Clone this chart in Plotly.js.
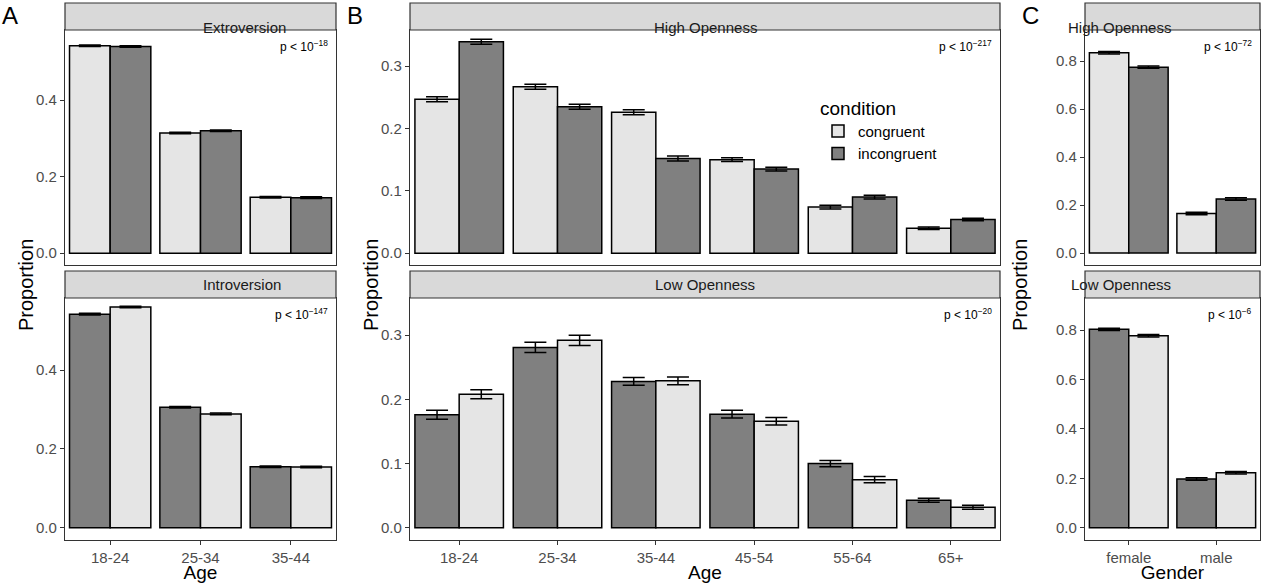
<html>
<head>
<script src="https://cdn.plot.ly/plotly-3.0.1.min.js"></script>
</head>
<body style="margin:0">
<div id="chart" style="width:1280px;height:583px"></div>
<script>
// data
let ageA = ["18-24", "25-34", "35-44"]
let extroCong = [0.542, 0.314, 0.146]
let extroIncong = [0.540, 0.320, 0.145]
let introIncong = [0.542, 0.306, 0.155]
let introCong = [0.560, 0.289, 0.154]
let errA = [0.002, 0.002, 0.002]

let ageB = ["18-24", "25-34", "35-44", "45-54", "55-64", "65+"]
let highCong = [0.247, 0.267, 0.226, 0.150, 0.074, 0.040]
let highIncong = [0.339, 0.235, 0.152, 0.135, 0.090, 0.054]
let highErr = [0.004, 0.004, 0.004, 0.003, 0.003, 0.002]
let lowIncong = [0.176, 0.281, 0.228, 0.177, 0.100, 0.043]
let lowCong = [0.208, 0.292, 0.229, 0.166, 0.075, 0.032]
let lowErr = [0.007, 0.008, 0.006, 0.006, 0.005, 0.003]

let gender = ["female", "male"]
let cHighCong = [0.835, 0.165]
let cHighIncong = [0.775, 0.225]
let cLowIncong = [0.803, 0.197]
let cLowCong = [0.777, 0.222]
let errC = [0.005, 0.005]

let light = "#e5e5e5"
let dark = "#808080"

function bar(x, y, err, color, name, xa, ya, show){
  return {type: "bar", x: x, y: y, name: name, xaxis: xa, yaxis: ya, showlegend: show, legendgroup: name,
    marker: {color: color, line: {color: "black", width: 1.5}},
    error_y: {type: "data", array: err, color: "black", thickness: 1.5, width: 11}}
}

let data = [
  bar(ageA, extroCong, errA, light, "congruent", "x", "y", false),
  bar(ageA, extroIncong, errA, dark, "incongruent", "x", "y", false),
  bar(ageA, introIncong, errA, dark, "incongruent", "x2", "y2", false),
  bar(ageA, introCong, errA, light, "congruent", "x2", "y2", false),
  bar(ageB, highCong, highErr, light, "congruent", "x3", "y3", true),
  bar(ageB, highIncong, highErr, dark, "incongruent", "x3", "y3", true),
  bar(ageB, lowIncong, lowErr, dark, "incongruent", "x4", "y4", false),
  bar(ageB, lowCong, lowErr, light, "congruent", "x4", "y4", false),
  bar(gender, cHighCong, errC, light, "congruent", "x5", "y5", false),
  bar(gender, cHighIncong, errC, dark, "incongruent", "x5", "y5", false),
  bar(gender, cLowIncong, errC, dark, "incongruent", "x6", "y6", false),
  bar(gender, cLowCong, errC, light, "congruent", "x6", "y6", false)
]

let W = 1280, H = 583
let topDom = [1 - 265/H, 1 - 30/H]
let botDom = [1 - 540/H, 1 - 298/H]
let cols = [[65, 336], [410, 1000], [1085, 1260]]
let ranges = [[-0.031, 0.583], [-0.019, 0.358], [-0.05, 0.93]]
let dticks = [0.2, 0.1, 0.2]
let xtitles = ["Age", "Age", "Gender"]

let layout = {
  width: W, height: H, margin: {l: 0, r: 0, t: 0, b: 0},
  paper_bgcolor: "white", plot_bgcolor: "white",
  font: {family: "Liberation Sans, Arial", color: "#4d4d4d"},
  barmode: "group", bargap: 0.1, bargroupgap: 0,
  legend: {x: 818/W, y: 1 - 90/H, xanchor: "left", yanchor: "top", bgcolor: "rgba(0,0,0,0)",
    title: {text: "condition", font: {size: 19, color: "black"}}, font: {size: 15, color: "black"},
    traceorder: "normal"},
  shapes: [], annotations: []
}

let strips = [["Extroversion", "Introversion"], ["High Openness", "Low Openness"], ["High Openness", "Low Openness"]]
let pvals = [["p < 10<sup>−18</sup>", "p < 10<sup>−147</sup>"], ["p < 10<sup>−217</sup>", "p < 10<sup>−20</sup>"], ["p < 10<sup>−72</sup>", "p < 10<sup>−6</sup>"]]
let letters = ["A", "B", "C"]

for (let i = 0; i < 3; i++){
  let dom = [cols[i][0]/W, cols[i][1]/W]
  for (let r = 0; r < 2; r++){
    let n = i*2 + r + 1
    let sfx = n == 1 ? "" : n
    layout["xaxis" + sfx] = {domain: dom, anchor: "y" + sfx, showline: true, mirror: true, linecolor: "#333", linewidth: 1.2,
      ticks: r == 1 ? "outside" : "", ticklen: 4, tickcolor: "#333", showticklabels: r == 1,
      tickfont: {size: 15, color: "#4d4d4d"}, showgrid: false,
      title: r == 1 ? {text: xtitles[i], font: {size: 19, color: "black"}, standoff: 4} : {text: ""}}
    layout["yaxis" + sfx] = {domain: r == 0 ? topDom : botDom, anchor: "x" + sfx, range: ranges[i], dtick: dticks[i], tick0: 0,
      tickformat: ".1f", showline: true, mirror: true, linecolor: "#333", linewidth: 1.2, ticks: "outside", ticklen: 4,
      tickcolor: "#333", tickfont: {size: 15, color: "#4d4d4d"}, showgrid: false, zeroline: false}
    let yt = r == 0 ? 3 : 271
    let yb = r == 0 ? 30 : 298
    layout.shapes.push({type: "rect", xref: "paper", yref: "paper", x0: dom[0], x1: dom[1], y0: 1 - yb/H, y1: 1 - yt/H,
      fillcolor: "#d9d9d9", line: {color: "#333", width: 1.2}})
    layout.annotations.push({xref: "paper", yref: "paper", x: (dom[0] + dom[1])/2, y: 1 - (yt + yb)/2/H,
      text: strips[i][r], showarrow: false, font: {size: 15, color: "#1a1a1a"}})
    layout.annotations.push({xref: "paper", yref: "paper", x: dom[1] - 6/W, y: 1 - (yb + 6)/H, xanchor: "right", yanchor: "top",
      text: pvals[i][r], showarrow: false, font: {size: 12, color: "black"}})
  }
  layout.annotations.push({xref: "paper", yref: "paper", x: (cols[i][0] - 52)/W, y: 1 - 285/H, textangle: -90,
    text: "Proportion", showarrow: false, font: {size: 20, color: "black"}})
  layout.annotations.push({xref: "paper", yref: "paper", x: (cols[i][0] - 65)/W, y: 1, xanchor: "left", yanchor: "top",
    text: letters[i], showarrow: false, font: {size: 24, color: "black"}})
}

Plotly.newPlot("chart", data, layout, {displayModeBar: false})
</script>
</body>
</html>
